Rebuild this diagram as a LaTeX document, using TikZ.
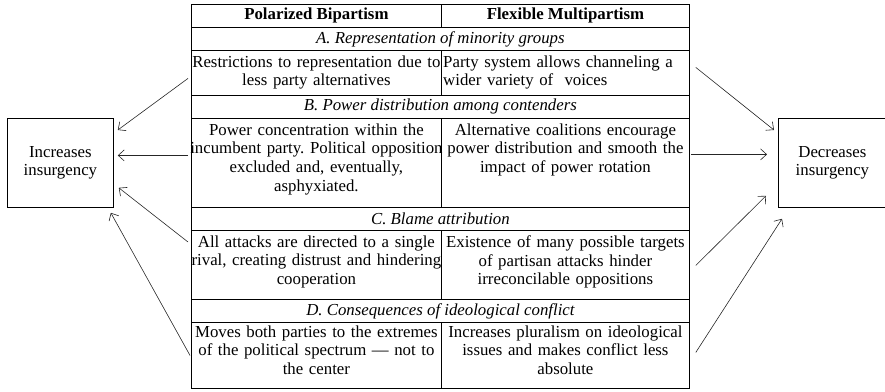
\documentclass[tikz,border=0pt]{standalone}
\usepackage{fontspec}
\setmainfont{Liberation Serif}
\usetikzlibrary{arrows.meta}
\frenchspacing
\newcommand{\mybody}{\fontsize{16.8}{18.6}\selectfont}
\tikzset{
  cell/.style={draw, line width=0.8pt, inner sep=0pt, anchor=north west, font=\mybody},
  hdr/.style={cell, font=\mybody\bfseries},
  ttl/.style={cell, font=\mybody\itshape, minimum width=498pt, minimum height=23pt},
  txt/.style={anchor=north, align=center, inner sep=0pt, font=\mybody, text width=264pt},
  sidebox/.style={draw, line width=0.8pt, inner sep=0pt, anchor=north west, align=center, font=\mybody, minimum height=89pt},
  arr/.style={line width=0.6pt, draw=black!85, -{Straight Barb[length=6pt,width=11pt,line width=0.6pt]}}
}
\begin{document}
\begin{tikzpicture}[x=1pt, y=-1pt]
\useasboundingbox (0,0) rectangle (885,391);
% header
\node[hdr, minimum width=250pt, minimum height=23pt] (hL) at (191,4) {Polarized Bipartism};
\node[hdr, minimum width=248pt, minimum height=23pt] (hR) at (441,4) {Flexible Multipartism};
% A
\node[ttl] (aT) at (191,27) {A. Representation of minority groups};
\node[cell, minimum width=250pt, minimum height=45pt] (aL) at (191,50) {};
\node[cell, minimum width=248pt, minimum height=45pt] (aR) at (441,50) {};
\node[txt] (aLt) at ([yshift=-5.5pt]aL.north) {Restrictions to representation due to\\less party alternatives};
\node[txt, anchor=north west, align=left, text width=246pt] (aRt) at ([xshift=2pt,yshift=-5.5pt]aR.north west) {Party system allows channeling a\\wider variety of\ \ voices};
% B
\node[ttl] (bT) at (191,95) {B. Power distribution among contenders};
\node[cell, minimum width=250pt, minimum height=89pt] (bL) at (191,118) {};
\node[cell, minimum width=248pt, minimum height=89pt] (bR) at (441,118) {};
\node[txt] (bLt) at ([yshift=-5.5pt]bL.north) {Power concentration within the\\incumbent party. Political opposition\\excluded and, eventually,\\asphyxiated.};
\node[txt] (bRt) at ([yshift=-5.5pt]bR.north) {Alternative coalitions encourage\\power distribution and smooth the\\impact of power rotation};
% C
\node[ttl] (cT) at (191,207) {C. Blame attribution};
\node[cell, minimum width=250pt, minimum height=69pt] (cL) at (191,230) {};
\node[cell, minimum width=248pt, minimum height=69pt] (cR) at (441,230) {};
\node[txt] (cLt) at ([yshift=-5.5pt]cL.north) {All attacks are directed to a single\\rival, creating distrust and hindering\\cooperation};
\node[txt] (cRt) at ([yshift=-5.5pt]cR.north) {Existence of many possible targets\\of partisan attacks hinder\\irreconcilable oppositions};
% D
\node[ttl] (dT) at (191,299) {D. Consequences of ideological conflict};
\node[cell, minimum width=250pt, minimum height=66pt] (dL) at (191,322) {};
\node[cell, minimum width=248pt, minimum height=66pt] (dR) at (441,322) {};
\node[txt] (dLt) at ([yshift=-3.5pt]dL.north) {Moves both parties to the extremes\\of the political spectrum --- not to\\the center};
\node[txt] (dRt) at ([yshift=-3.5pt]dR.north) {Increases pluralism on ideological\\issues and makes conflict less\\absolute};
% side boxes
\node[sidebox, minimum width=106pt] (inc) at (7,118) {Increases\\insurgency};
\node[sidebox, minimum width=108pt] (dec) at (778,118) {Decreases\\insurgency};
% arrows left
\draw[arr] ([xshift=-3pt,yshift=-5.5pt]aL.west) -- ([xshift=4pt,yshift=-12pt]inc.north east);
\draw[arr] ([xshift=-3pt,yshift=7.5pt]bL.west) -- ([xshift=4pt,yshift=7.5pt]inc.east);
\draw[arr] ([xshift=-3pt,yshift=-12pt]cL.north west) -- ([xshift=5pt,yshift=20pt]inc.south east);
\draw[arr] ([xshift=-1pt]dL.west) -- ([xshift=-3pt,yshift=-5pt]inc.south east);
% arrows right
\draw[arr] ([xshift=6pt,yshift=5.5pt]aR.east) -- ([xshift=-4pt,yshift=-12pt]dec.north west);
\draw[arr] ([xshift=1pt,yshift=8.5pt]bR.east) -- ([xshift=-11pt,yshift=8.5pt]dec.west);
\draw[arr] ([xshift=6pt,yshift=-0.5pt]cR.east) -- ([xshift=-12pt,yshift=12pt]dec.south west);
\draw[arr] ([xshift=6pt,yshift=3pt]dR.east) -- ([xshift=4pt,yshift=-11pt]dec.south west);
\end{tikzpicture}
\end{document}
